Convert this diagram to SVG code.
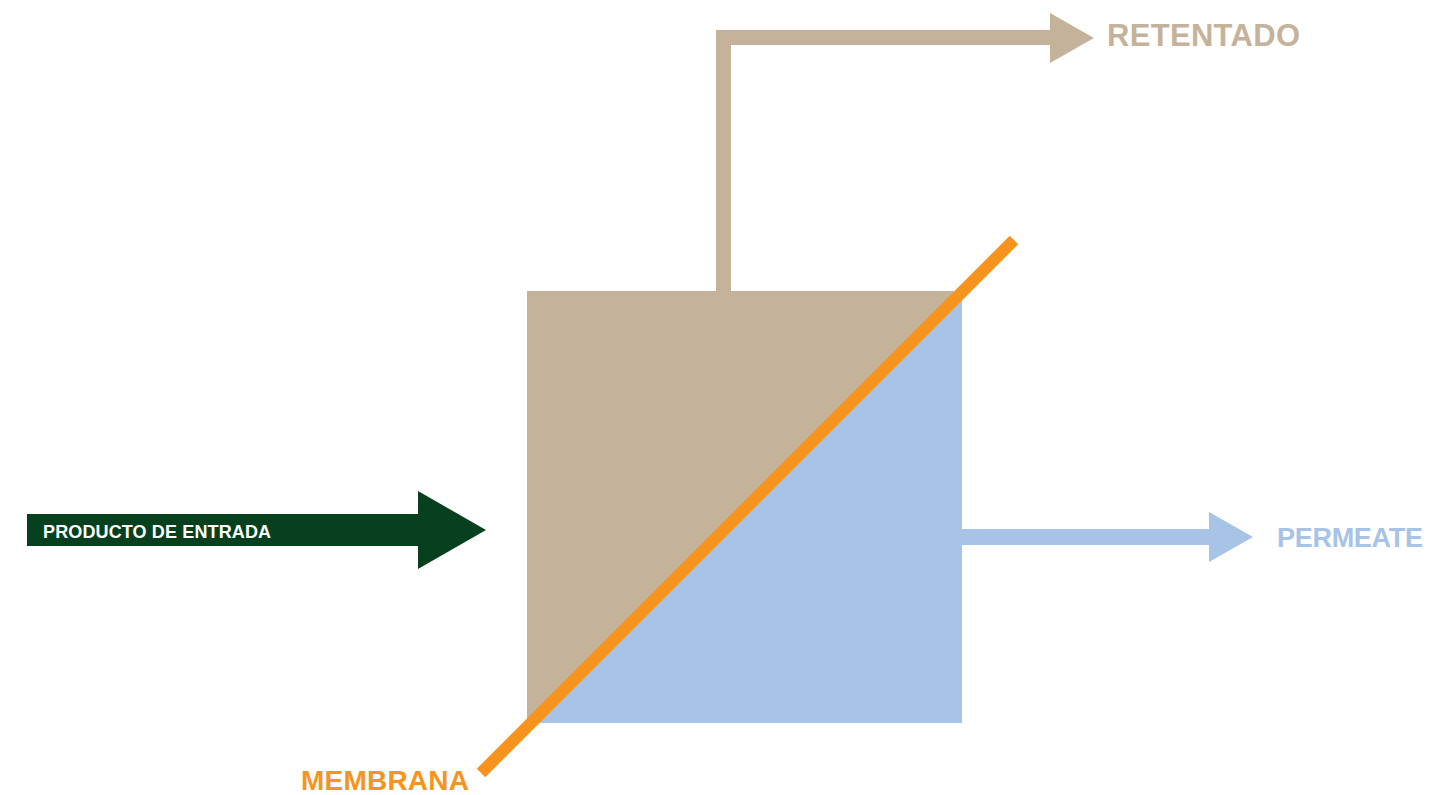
<svg xmlns="http://www.w3.org/2000/svg" width="1449" height="795" viewBox="0 0 1449 795">
<style>
.lbl{font-family:"Liberation Sans",Arial,sans-serif;font-weight:bold}
.tan{fill:#C4B39A}
.blue{fill:#A7C3E6}
</style>
<rect width="1449" height="795" fill="#ffffff"/>
<g id="separator">
<rect class="blue" x="527" y="291" width="435" height="432"/>
<polygon class="tan" points="527,291 957,291 527,721"/>
</g>
<g id="connectors">
<polygon class="tan" points="716,291 716,30 1050,30 1050,13 1094,38 1050,63 1050,45 731,45 731,291"/>
<polygon class="blue" points="962,529 1209,529 1209,512 1253,537 1209,562 1209,545 962,545"/>
<polygon fill="#07401E" points="27,514 418,514 418,491 486,530 418,569 418,546 27,546"/>
</g>
<g id="membrane">
<line x1="1014" y1="240" x2="481" y2="773" stroke="#F7941D" stroke-width="12"/>
</g>
<g id="label-retentado">
<text class="lbl tan" x="1107" y="46" font-size="31" textLength="193">RETENTADO</text>
</g>
<g id="label-producto">
<text class="lbl" fill="#ffffff" x="43" y="538" font-size="18" textLength="228">PRODUCTO DE ENTRADA</text>
</g>
<g id="label-permeate">
<text class="lbl blue" x="1277" y="547" font-size="27" textLength="146">PERMEATE</text>
</g>
<g id="label-membrana">
<text class="lbl" fill="#F7941D" x="301" y="790" font-size="28" textLength="168">MEMBRANA</text>
</g>
</svg>
